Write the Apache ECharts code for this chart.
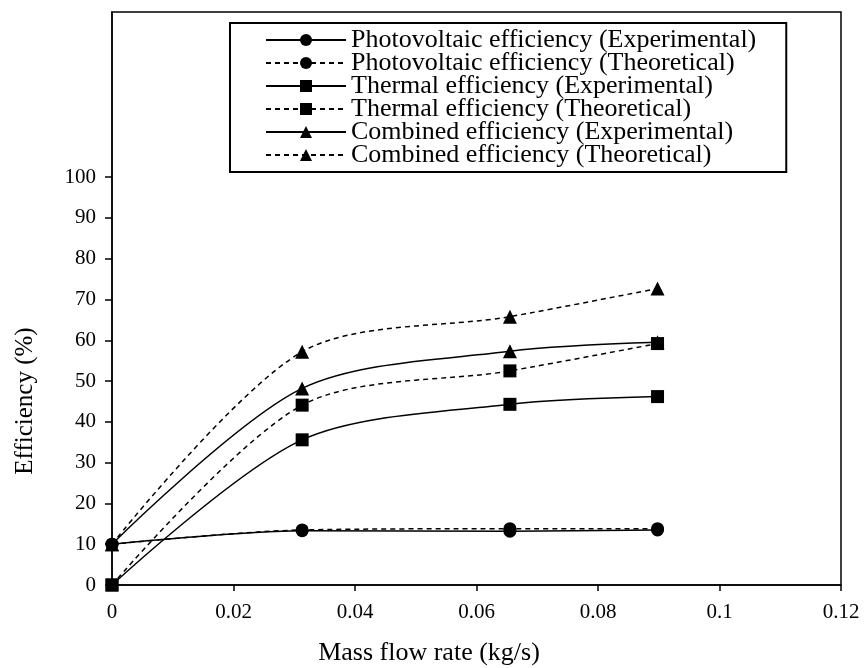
<!DOCTYPE html>
<html>
<head>
<meta charset="utf-8">
<script src="https://cdn.jsdelivr.net/npm/echarts@6/dist/echarts.min.js"></script>
<style>
  html, body { margin: 0; padding: 0; background: #fff; }
  #main { width: 864px; height: 668px; }
</style>
</head>
<body>
<div id="main"></div>
<script>
// mass flow rate (kg/s)
var flow = [0, 0.0313, 0.0655, 0.0898];
// efficiencies (%)
var pvExp = [10, 13.3, 13.2, 13.5];
var pvTheo = [10, 13.5, 13.8, 13.8];
var thExp = [0, 35.6, 44.3, 46.2];
var thTheo = [0, 44.1, 52.5, 59.2];
var coExp = [10, 48.2, 57.3, 59.5];
var coTheo = [10, 57.2, 65.8, 72.7];
var yTicks = [0, 10, 20, 30, 40, 50, 60, 70, 80, 90, 100];

var names = [
    'Photovoltaic efficiency (Experimental)',
    'Photovoltaic efficiency (Theoretical)',
    'Thermal efficiency (Experimental)',
    'Thermal efficiency (Theoretical)',
    'Combined efficiency (Experimental)',
    'Combined efficiency (Theoretical)'
];
var values = [pvExp, pvTheo, thExp, thTheo, coExp, coTheo];
var symbols = ['circle', 'circle', 'rect', 'rect', 'triangle', 'triangle'];
var sizes = [13, 13, 13, 13, 14, 14];

function pairs(ys) {
    return flow.map(function (x, i) { return [x, ys[i]]; });
}

var font = 'Liberation Serif';
var series = names.map(function (n, i) {
    var dashed = i % 2 == 1;
    return {
        name: n,
        type: 'line',
        smooth: 0.3,
        symbol: symbols[i],
        symbolSize: sizes[i],
        itemStyle: { color: '#000' },
        lineStyle: { color: '#000', width: 1.5, type: dashed ? [5, 4] : 'solid' },
        data: pairs(values[i])
    };
});

var myChart = echarts.init(document.getElementById('main'));
option = {
    animation: false,
    grid: {
        left: 112, right: 23, top: 12, bottom: 83,
        show: true, borderColor: '#000', borderWidth: 1.5
    },
    legend: {
        orient: 'vertical',
        left: 230, top: 23,
        padding: [4, 30, 4, 35],
        itemWidth: 80, itemHeight: 15, itemGap: -3,
        borderColor: '#000', borderWidth: 2,
        textStyle: { fontFamily: font, fontSize: 26, color: '#000' },
        data: names
    },
    xAxis: {
        type: 'value',
        min: 0, max: 0.12, interval: 0.02,
        splitLine: { show: false },
        axisLine: { lineStyle: { color: '#000', width: 1.5 } },
        axisTick: { length: 6, lineStyle: { color: '#000', width: 1.5 } },
        axisLabel: { margin: 17, fontFamily: font, fontSize: 21, color: '#000' }
    },
    yAxis: {
        type: 'value',
        min: 0, max: 140.5,
        splitLine: { show: false },
        axisLine: { onZero: false, lineStyle: { color: '#000', width: 1.5 } },
        axisTick: { length: 7, customValues: yTicks, lineStyle: { color: '#000', width: 1.5 } },
        axisLabel: { margin: 16, customValues: yTicks, fontFamily: font, fontSize: 21, color: '#000' }
    },
    graphic: [
        {
            type: 'text', x: 25, y: 401, rotation: Math.PI / 2,
            style: {
                text: 'Efficiency (%)', fontFamily: font, fontSize: 25, fill: '#000',
                align: 'center', verticalAlign: 'middle'
            }
        },
        {
            type: 'text', x: 429, y: 653,
            style: {
                text: 'Mass flow rate (kg/s)', fontFamily: font, fontSize: 26, fill: '#000',
                align: 'center', verticalAlign: 'middle'
            }
        }
    ],
    series: series
};
myChart.setOption(option);
</script>
</body>
</html>
